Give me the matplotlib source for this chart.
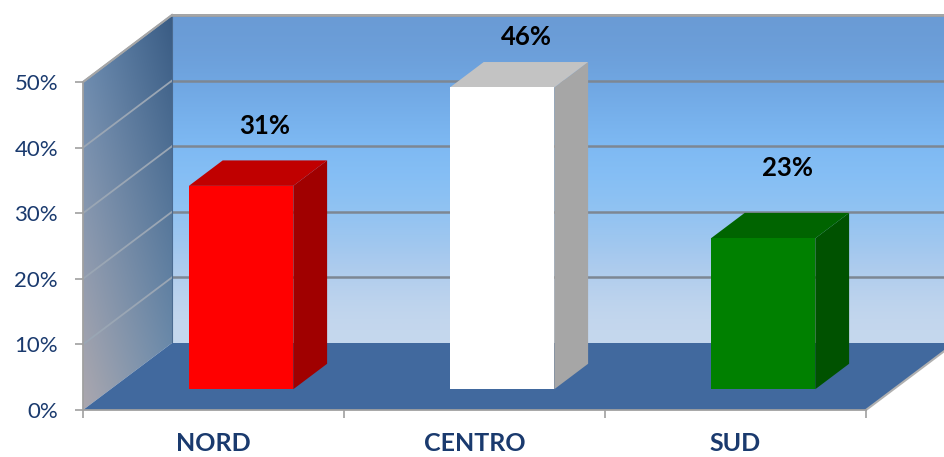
import matplotlib
matplotlib.use('Agg')
import matplotlib.pyplot as plt
from matplotlib.patches import Polygon
from matplotlib.colors import to_rgb
import numpy as np

# Data
categories = ["NORD", "CENTRO", "SUD"]
values = [31, 46, 23]
value_labels = ["31%", "46%", "23%"]
y_ticks = [0, 10, 20, 30, 40, 50]

# Constants (3D look)
DX = 89 / 261.0     # depth offset in x (category units)
DY = 67 / 6.56      # depth offset in y (percent units)
BAR_W = 0.40
Z0, ZD = 0.31, 0.38  # bar front depth and bar depth
YMAX = 50
NAVY = "#1a3a6e"
face_cols = ["#ff0000", "#ffffff", "#008000"]
top_cols = ["#c00000", "#c3c3c3", "#006400"]
side_cols = ["#a00000", "#a6a6a6", "#005200"]
label_nudge = [0, -1.4, 1.7]

plt.rcParams['font.family'] = ['Lato', 'DejaVu Sans']

fig = plt.figure(figsize=(9.44, 4.57), dpi=100)
ax = fig.add_axes([83 / 944, 47 / 457, 783 / 944, 328 / 457])
ax.set_xlim(0, 3)
ax.set_ylim(0, YMAX)
ax.patch.set_alpha(0)


def clip_to(im, poly):
    im.set_clip_box(fig.bbox)
    im.set_clip_path(Polygon(poly, closed=True, transform=ax.transData))


def gradient(corners, extent, poly, z):
    # corners: top-left, top-right, bottom-left, bottom-right
    tl, tr, bl, br = [np.array(to_rgb(c)) for c in corners]
    n = 64
    t = np.linspace(0, 1, n)[:, None, None]
    s = np.linspace(0, 1, n)[None, :, None]
    top = tl * (1 - s) + tr * s
    bot = bl * (1 - s) + br * s
    img = top * (1 - t) + bot * t
    im = ax.imshow(img, extent=extent, origin='upper', aspect='auto',
                   interpolation='bilinear', zorder=z)
    clip_to(im, poly)
    return im


# back wall
back = [(DX, DY), (3 + DX, DY), (3 + DX, YMAX + DY), (DX, YMAX + DY)]
wall_img = np.array([to_rgb(c) for c in
                     ["#6a9bd5", "#72aae6", "#7fbcf6", "#8dc2f3", "#a9c9ed", "#c6d8ee"]])
wall_img = np.repeat(wall_img[:, None, :], 2, axis=1)
im = ax.imshow(wall_img, extent=(DX, 3 + DX, DY, YMAX + DY), origin='upper',
               aspect='auto', interpolation='bicubic', zorder=0.5)
clip_to(im, back)

# side wall
side = [(0, 0), (DX, DY), (DX, YMAX + DY), (0, YMAX)]
gradient(["#6488b0", "#3a5c84", "#aba7ae", "#7291b0"],
         (0, DX, 0, YMAX + DY), side, 0.6)

# floor
floor = [(0, 0), (3, 0), (3 + DX, DY), (DX, DY)]
ax.add_patch(Polygon(floor, closed=True, facecolor="#41699e", edgecolor="none",
                     zorder=1, clip_on=False))
ax.plot([3, 3 + DX], [0, DY], color="#b0b0b0", lw=1.5, zorder=1.1, clip_on=False)

# gridlines on walls
for t in y_ticks[1:]:
    ax.plot([DX, 3 + DX], [t + DY, t + DY], color="#7d8793", lw=1.8,
            zorder=0.9, clip_on=False)
    ax.plot([0, DX], [t, t + DY], color="#9aa6b4", lw=1.3, zorder=0.9,
            clip_on=False)
ax.plot([DX, 3 + DX], [YMAX + DY, YMAX + DY], color="#a6a6a6", lw=1.8,
        zorder=0.95, clip_on=False)
ax.plot([0, DX], [YMAX, YMAX + DY], color="#a6a6a6", lw=1.5, zorder=0.95,
        clip_on=False)
ax.plot([DX, DX], [DY, YMAX + DY], color="#4a6a90", lw=0.8, zorder=0.9,
        clip_on=False)

# 3D bars
for i, v in enumerate(values):
    c = i + 0.5
    x0 = c - BAR_W / 2 + Z0 * DX
    x1 = c + BAR_W / 2 + Z0 * DX
    b = Z0 * DY
    top = b + v
    ddx, ddy = ZD * DX, ZD * DY
    ax.add_patch(Polygon([(x1, b), (x1 + ddx, b + ddy), (x1 + ddx, top + ddy), (x1, top)],
                         closed=True, facecolor=side_cols[i], edgecolor="none",
                         zorder=3, clip_on=False))
    ax.add_patch(Polygon([(x0, top), (x1, top), (x1 + ddx, top + ddy), (x0 + ddx, top + ddy)],
                         closed=True, facecolor=top_cols[i], edgecolor="none",
                         zorder=3, clip_on=False))
    ax.add_patch(Polygon([(x0, b), (x1, b), (x1, top), (x0, top)],
                         closed=True, facecolor=face_cols[i], edgecolor="none",
                         zorder=3.1, clip_on=False))
    zl = 0.58
    ax.text(c + zl * DX, v + zl * DY + 6.3 + label_nudge[i], value_labels[i],
            ha='center', va='center', fontsize=18.5, fontweight='bold',
            color='black', zorder=5, clip_on=False)

# axes styling
for s in ['top', 'right']:
    ax.spines[s].set_visible(False)
for s in ['left', 'bottom']:
    ax.spines[s].set_color("#a0a0a0")
    ax.spines[s].set_linewidth(1.3)
    ax.spines[s].set_zorder(2)

ax.set_yticks(y_ticks)
ax.set_yticklabels([f"{t}%" for t in y_ticks])
ax.tick_params(axis='y', direction='out', length=6, width=1.2, color="#a0a0a0",
               labelsize=16, labelcolor=NAVY, pad=12)
ax.set_xticks([0, 1, 2, 3])
ax.set_xticklabels([])
ax.set_xticks([0.5, 1.5, 2.5], minor=True)
ax.set_xticklabels(categories, minor=True, fontsize=18, fontweight='bold',
                   color=NAVY)
ax.tick_params(axis='x', which='major', direction='out', length=6, width=1.2,
               color="#a0a0a0")
ax.tick_params(axis='x', which='minor', length=0, pad=16)

fig.savefig("out.png", dpi=100)
